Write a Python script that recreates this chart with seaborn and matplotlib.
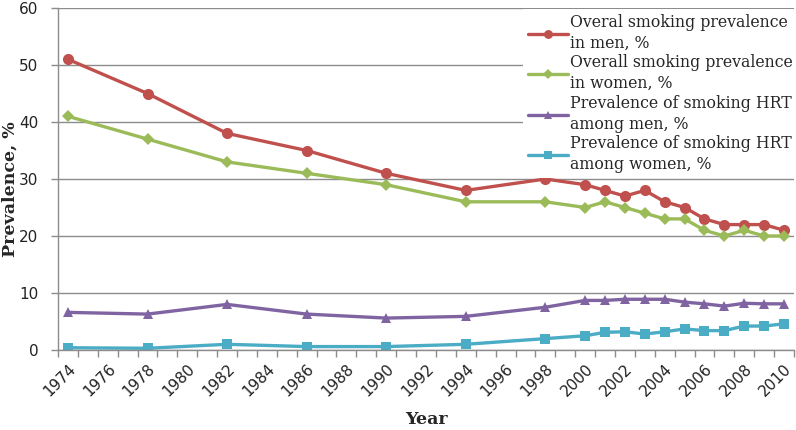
import numpy as np
import pandas as pd
import matplotlib
matplotlib.use("Agg")
import matplotlib.pyplot as plt
import seaborn as sns

sns.set_style("white")
plt.rcParams['font.family'] = ['DejaVu Sans']

# data
years = [1974, 1978, 1982, 1986, 1990, 1994, 1998, 2000, 2001, 2002,
         2003, 2004, 2005, 2006, 2007, 2008, 2009, 2010]
men_all = [51, 45, 38, 35, 31, 28, 30, 29, 28, 27, 28, 26, 25, 23, 22, 22, 22, 21]
women_all = [41, 37, 33, 31, 29, 26, 26, 25, 26, 25, 24, 23, 23, 21, 20, 21, 20, 20]
men_hrt = [6.6, 6.3, 8.0, 6.3, 5.6, 5.9, 7.5, 8.7, 8.7, 8.9, 8.9, 8.9, 8.4, 8.1,
           7.7, 8.2, 8.1, 8.1]
women_hrt = [0.4, 0.3, 1.0, 0.6, 0.6, 1.0, 2.0, 2.5, 3.1, 3.2, 2.8, 3.2, 3.7,
             3.4, 3.4, 4.2, 4.2, 4.6]

series_labels = ["Overal smoking prevalence\nin men, %",
                 "Overall smoking prevalence\nin women, %",
                 "Prevalence of smoking HRT\namong men, %",
                 "Prevalence of smoking HRT\namong women, %"]
tick_years = [1974, 1976, 1978, 1980, 1982, 1984, 1986, 1988, 1990, 1992,
              1994, 1996, 1998, 2000, 2002, 2004, 2006, 2008, 2010]

colors = ['#C0504D', '#9BBB59', '#8064A2', '#4BACC6']
markers = ['o', 'D', '^', 's']
msizes = [8, 6, 7.5, 7.5]

df = pd.DataFrame({'year': years, 'men_all': men_all, 'women_all': women_all,
                   'men_hrt': men_hrt, 'women_hrt': women_hrt})
cols = ['men_all', 'women_all', 'men_hrt', 'women_hrt']

fig = plt.figure(figsize=(7.96, 4.30), dpi=100)
ax = fig.add_axes([58/796, 1 - 350/430, 736/796, 342/430])

for col, lab, c, m, ms in zip(cols, series_labels, colors, markers, msizes):
    sns.lineplot(data=df, x='year', y=col, ax=ax, label=lab, color=c,
                 marker=m, markersize=ms, linewidth=2.4, markeredgewidth=0)

grey = '#8C8C8C'
ax.set_xlim(1973.5, 2010.5)
ax.set_ylim(0, 60)
ax.set_yticks([0, 10, 20, 30, 40, 50, 60])
ax.yaxis.grid(True, color=grey, lw=1)
ax.set_axisbelow(True)

ax.set_xticks(tick_years)
ax.set_xticklabels([str(y) for y in tick_years], rotation=45, ha='right',
                   rotation_mode='anchor')
ax.set_xticks(np.arange(1973.5, 2011, 1.0), minor=True)
ax.tick_params(axis='x', which='major', length=0, pad=8, labelsize=11,
               labelcolor='#222222')
ax.tick_params(axis='x', which='minor', length=5, color=grey, width=1,
               direction='out', bottom=True)
ax.tick_params(axis='y', which='major', length=5, color=grey, width=1,
               direction='out', left=True, pad=9, labelsize=11,
               labelcolor='#222222')

for s in ['top', 'right']:
    ax.spines[s].set_visible(False)
for s in ['left', 'bottom']:
    ax.spines[s].set_color(grey)
    ax.spines[s].set_linewidth(1)

ax.set_xlabel("Year", fontfamily='DejaVu Serif', fontweight='bold', fontsize=12.5)
ax.set_ylabel("Prevalence, %", fontfamily='DejaVu Serif', fontweight='bold',
              fontsize=12.5)
ax.xaxis.set_label_coords(0.5, (350 - 428.5) / 342)
ax.xaxis.label.set_va('bottom')
ax.yaxis.set_label_coords((19 - 58) / 736, 0.47)

leg = ax.legend(loc='upper left', bbox_to_anchor=(523/796, 1 - 9/430),
                bbox_transform=fig.transFigure, frameon=True, fancybox=False,
                facecolor='white', edgecolor='none', framealpha=1,
                prop={'family': 'DejaVu Serif', 'size': 11.3},
                handlelength=2.55, handletextpad=0.15, labelspacing=0.17,
                borderpad=0.3, borderaxespad=0, markerscale=0.8)
for t in leg.get_texts():
    t.set_linespacing(1.3)

fig.savefig("out.png", dpi=100)
